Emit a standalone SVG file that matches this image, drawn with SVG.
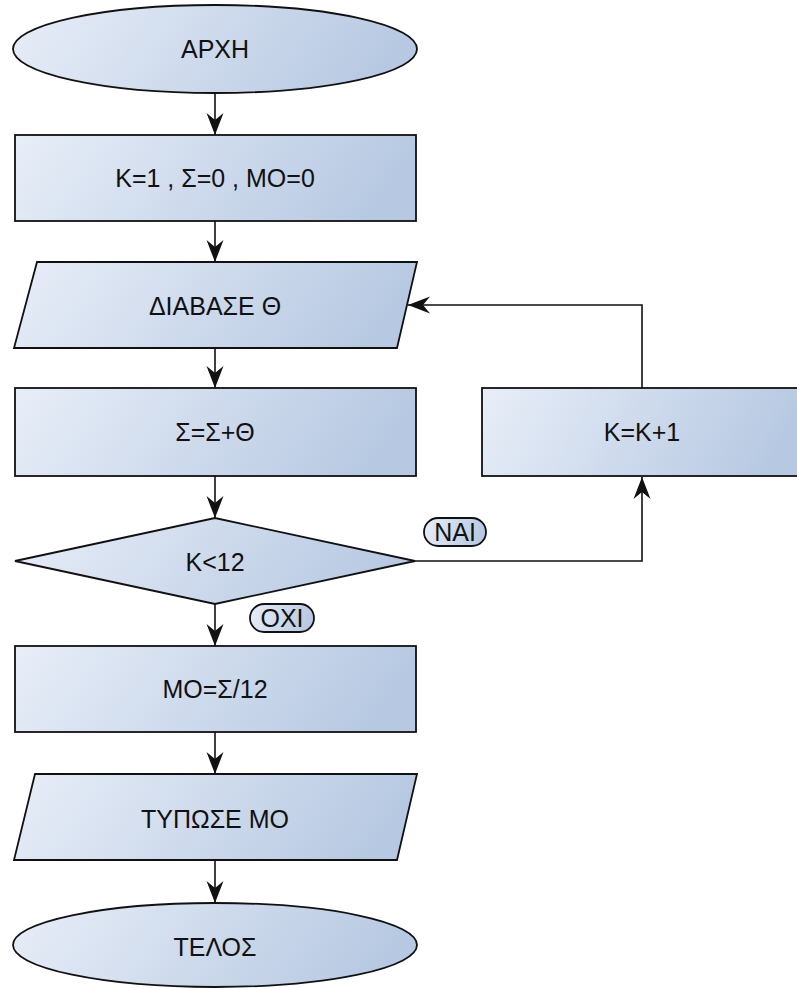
<svg xmlns="http://www.w3.org/2000/svg" width="797" height="988" viewBox="0 0 797 988">
<style>
.s{fill:url(#g);stroke:#111;stroke-width:1.8}
.t{font-family:"Liberation Sans",Arial,sans-serif;font-size:25px;fill:#111;text-anchor:middle}
.c{fill:none;stroke:#111;stroke-width:1.6}
</style>
<defs>
<linearGradient id="g" x1="0" y1="0" x2="1" y2="0.15">
<stop offset="0" stop-color="#e8eef8"/>
<stop offset="1" stop-color="#b7c9e2"/>
</linearGradient>
<marker id="a" markerUnits="userSpaceOnUse" markerWidth="24" markerHeight="20" viewBox="-23 -10 24 20" refX="0" refY="0" orient="auto">
<path d="M0,0 L-22,-8.5 L-15,0 L-22,8.5 Z" fill="#111"/>
</marker>
</defs>
<rect width="797" height="988" fill="#fff"/>
<g id="connectors">
<line class="c" x1="215" y1="93" x2="215" y2="135" marker-end="url(#a)"/>
<line class="c" x1="215" y1="221" x2="215" y2="262" marker-end="url(#a)"/>
<line class="c" x1="215" y1="348" x2="215" y2="388" marker-end="url(#a)"/>
<line class="c" x1="215" y1="476" x2="215" y2="518" marker-end="url(#a)"/>
<line class="c" x1="215" y1="604" x2="215" y2="646" marker-end="url(#a)"/>
<line class="c" x1="215" y1="732" x2="215" y2="774" marker-end="url(#a)"/>
<line class="c" x1="215" y1="860" x2="215" y2="903" marker-end="url(#a)"/>
<polyline class="c" points="415,561 642,561 642,477" marker-end="url(#a)"/>
<polyline class="c" points="642,388 642,305 408,305" marker-end="url(#a)"/>
</g>
<g id="start">
<ellipse class="s" cx="215" cy="49" rx="202" ry="44"/>
<text class="t" x="215" y="58">ΑΡΧΗ</text>
</g>
<g id="init">
<rect class="s" x="15" y="135" width="401" height="86"/>
<text class="t" x="215" y="187">K=1 , Σ=0 , MO=0</text>
</g>
<g id="read">
<polygon class="s" points="37,262 417,262 397,348 14,348"/>
<text class="t" x="215" y="315">ΔΙΑΒΑΣΕ Θ</text>
</g>
<g id="sum">
<rect class="s" x="15" y="388" width="401" height="88"/>
<text class="t" x="215" y="441">Σ=Σ+Θ</text>
</g>
<g id="inc">
<rect class="s" x="482" y="388" width="322" height="88"/>
<text class="t" x="642" y="441">K=K+1</text>
</g>
<g id="cond">
<polygon class="s" points="15,561 215,518 415,561 215,604"/>
<text class="t" x="215" y="571">K&lt;12</text>
</g>
<g id="yes">
<rect class="s" x="424" y="518" width="62" height="28" rx="14"/>
<text class="t" x="455" y="541">ΝΑΙ</text>
</g>
<g id="no">
<rect class="s" x="250" y="604" width="64" height="28" rx="14"/>
<text class="t" x="282" y="627">ΟΧΙ</text>
</g>
<g id="avg">
<rect class="s" x="15" y="646" width="401" height="86"/>
<text class="t" x="215" y="698">MO=Σ/12</text>
</g>
<g id="print">
<polygon class="s" points="35,774 417,774 397,860 14,860"/>
<text class="t" x="215" y="828">ΤΥΠΩΣΕ ΜΟ</text>
</g>
<g id="end">
<ellipse class="s" cx="215" cy="945" rx="202" ry="42"/>
<text class="t" x="215" y="956">ΤΕΛΟΣ</text>
</g>
</svg>
